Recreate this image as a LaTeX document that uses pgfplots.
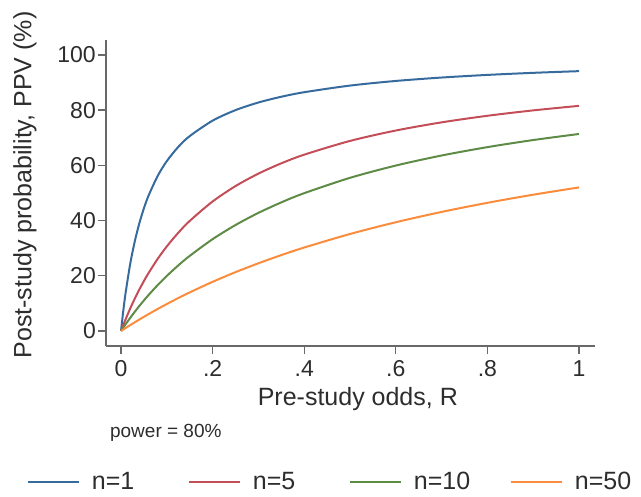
\documentclass[border=0pt]{standalone}
\usepackage{fontspec}
\setmainfont{Liberation Sans}
\usepackage{pgfplots}
\pgfplotsset{compat=1.18}

\definecolor{cBlue}{RGB}{55,107,158}
\definecolor{cRed}{RGB}{196,78,88}
\definecolor{cGreen}{RGB}{94,140,70}
\definecolor{cOrange}{RGB}{250,140,60}
\definecolor{axgray}{RGB}{105,105,105}
\definecolor{txt}{RGB}{45,45,45}

% PPV (%) against pre-study odds R, power 80%, alpha .05
\pgfplotstableread{
R      n1      n5      n10     n50
0      0       0       0       0
0.005  7.407   2.162   1.231   0.539
0.01   13.793  4.232   2.432   1.072
0.02   24.242  8.120   4.748   2.121
0.03   32.432  11.705  6.956   3.148
0.04   39.024  15.021  9.065   4.153
0.05   44.444  18.097  11.080  5.138
0.06   48.980  20.958  13.008  6.103
0.08   56.140  26.119  16.623  7.976
0.1    61.538  30.647  19.950  9.775
0.125  66.667  35.583  23.753  11.927
0.15   70.588  39.863  27.211  13.979
0.2    76.190  46.917  33.264  17.808
0.25   80.000  52.489  38.387  21.312
0.3    82.759  57.003  42.780  24.529
0.35   84.848  60.733  46.588  27.493
0.4    86.486  63.868  49.921  30.233
0.5    88.889  68.843  55.478  35.136
0.6    90.566  72.614  59.924  39.394
0.7    91.803  75.570  63.563  43.128
0.8    92.754  77.951  66.597  46.429
0.9    93.506  79.908  69.164  49.368
1.0    94.118  81.547  71.364  52.000
}\ppv

\begin{document}
\begin{tikzpicture}
\useasboundingbox (-106pt,-151pt) rectangle (535pt,346pt);
\begin{axis}[
  at={(0pt,0pt)}, anchor=south west,
  scale only axis, width=489pt, height=306pt,
  xmin=-0.0328, xmax=1.0349, ymin=-5.43, ymax=105.4,
  axis x line*=bottom, axis y line*=left,
  axis line style={axgray, line width=1.4pt, -},
  xtick={0,0.2,0.4,0.6,0.8,1},
  xticklabels={0,.2,.4,.6,.8,1},
  ytick={0,20,40,60,80,100},
  tick align=outside, major tick length=8pt,
  tick style={axgray, line width=1.3pt},
  /pgf/number format/assume math mode=true,
  ticklabel style={font=\fontsize{23}{26}\selectfont, text=txt, inner sep=0pt},
  xticklabel style={anchor=north, yshift=-6pt},
  yticklabel style={anchor=east, xshift=-2pt},
  xlabel={Pre-study odds, R},
  ylabel={Post-study probability, PPV (\%)},
  label style={font=\fontsize{25}{28}\selectfont, text=txt, inner sep=0pt},
  xlabel style={at={(axis description cs:0.515,-0.196)}, anchor=base},
  ylabel style={at={(axis description cs:-0.166,0.526)}, anchor=center, rotate=0},
  legend columns=4,
  legend style={at={(axis description cs:-0.1616,-0.4444)}, anchor=west,
    draw=none, fill=none, inner sep=0pt, outer sep=0pt,
    font=\fontsize{25}{28}\selectfont, text=txt,
    nodes={inner sep=0pt},
    /tikz/every odd column/.append style={column sep=12pt}},
  legend image code/.code={\draw[#1] (0pt,0pt) -- (51pt,0pt);},
  every axis plot/.append style={line width=2pt},
  clip=false,
]
  \addplot[cBlue, smooth] table[x=R, y=n1] {\ppv};
  \addlegendentry{\makebox[96pt][l]{n=1}}
  \addplot[cRed, smooth] table[x=R, y=n5] {\ppv};
  \addlegendentry{\makebox[96pt][l]{n=5}}
  \addplot[cGreen, smooth] table[x=R, y=n10] {\ppv};
  \addlegendentry{\makebox[96pt][l]{n=10}}
  \addplot[cOrange, smooth] table[x=R, y=n50] {\ppv};
  \addlegendentry{n=50}
  \node[anchor=base west, inner sep=0pt, text=txt, font=\fontsize{19}{22}\selectfont]
    at (axis description cs:0.008,-0.30) {power = 80\%};
\end{axis}
\end{tikzpicture}
\end{document}
